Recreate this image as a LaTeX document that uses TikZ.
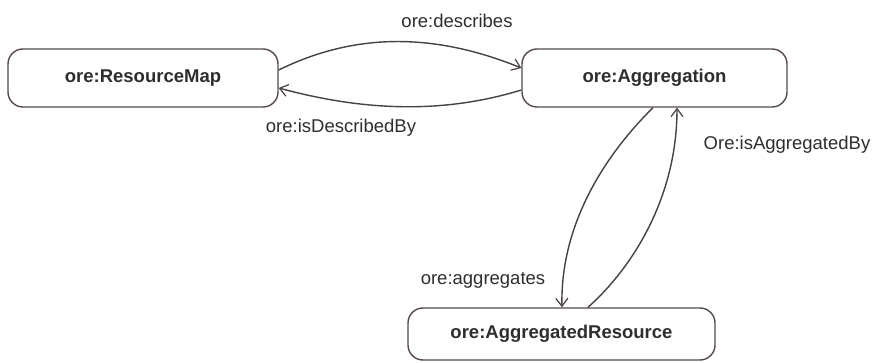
\documentclass[tikz,border=0pt]{standalone}
\usepackage{fontspec}
\setmainfont{Liberation Sans}
\usetikzlibrary{arrows.meta,calc}
\definecolor{boxline}{HTML}{554A4A}
\definecolor{txt}{HTML}{2E2E2E}
\definecolor{edge}{HTML}{474141}
\begin{document}
\begin{tikzpicture}[x=1pt,y=-1pt,
  cls/.style={draw=boxline,line width=1.4pt,rounded corners=15pt,fill=white,
    text=txt,font=\fontsize{18.5}{21}\selectfont\bfseries,inner sep=0pt},
  rel/.style={draw=edge,line width=1.4pt,-{Straight Barb[length=8pt,width=12pt,line width=1.2pt]}},
  lbl/.style={text=txt,font=\fontsize{18.5}{21}\selectfont,inner sep=0pt}]
\useasboundingbox[fill=white] (0,0) rectangle (873,363);
% classes
\node[cls,minimum width=270pt,minimum height=58pt] (rm) at (143,78) {ore:ResourceMap};
\node[cls,minimum width=265pt,minimum height=58pt] (ag) at (654.5,78) {ore:Aggregation};
\node[cls,minimum width=307pt,minimum height=52pt] (ar) at (561.5,334) {ore:AggregatedResource};
% relations between the classes
\draw[rel] ($(rm.east)+(0,-8)$) .. controls (360,30) and (440,35) .. ($(ag.west)+(0,-10)$);
\draw[rel] ($(ag.west)+(0,12)$) .. controls (440,115) and (360,110) .. ($(rm.east)+(0,10)$);
\draw[rel] ($(ag.south)+(-1.5,0)$) .. controls (610,150) and (560,220) .. ($(ar.north)+(0.5,0)$);
\draw[rel] ($(ar.north)+(26.5,0)$) .. controls (630,270) and (677,200) .. ($(ag.south)+(22.5,0)$);
% relation names
\node[lbl] (ldesc) at (457,21) {ore:describes};
\node[lbl] (lisdesc) at (341,128) {ore:isDescribedBy};
\node[lbl] (lagg) at (483,280) {ore:aggregates};
\node[lbl] (lisagg) at (787,145) {Ore:isAggregatedBy};
\end{tikzpicture}
\end{document}
